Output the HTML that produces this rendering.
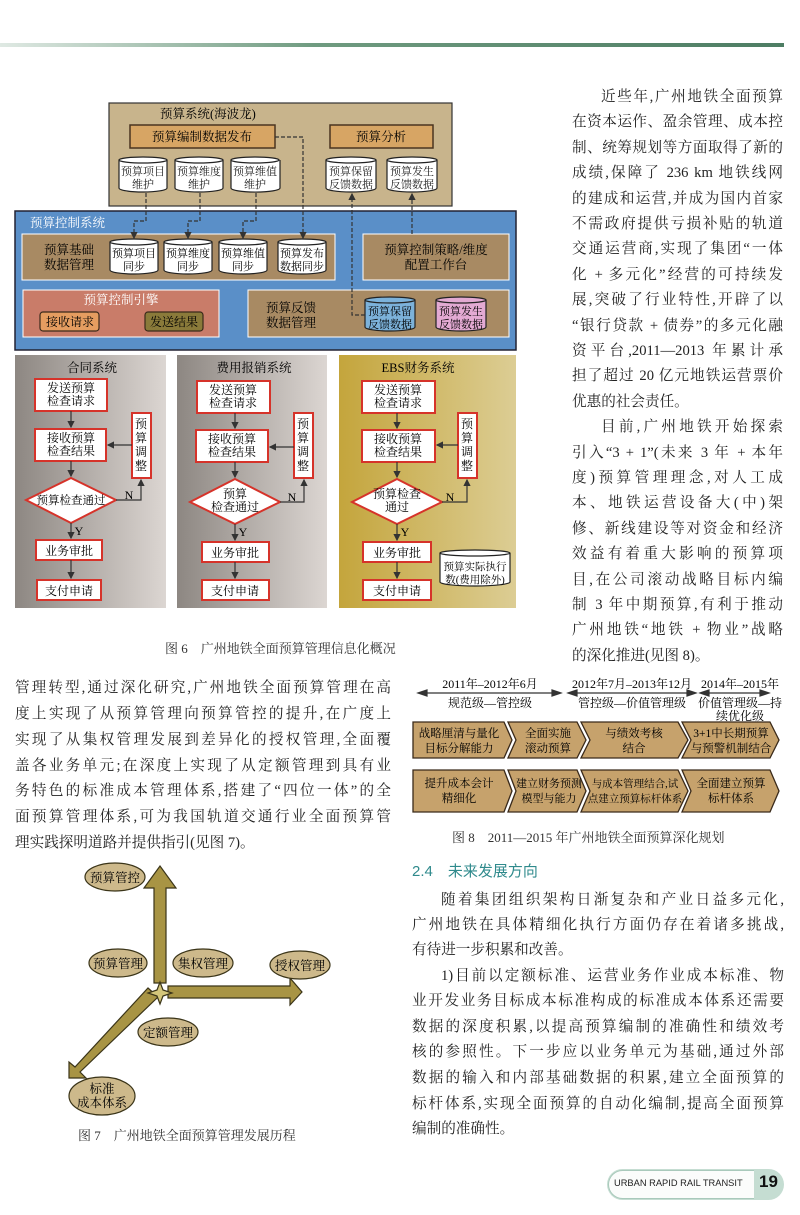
<!DOCTYPE html>
<html><head><meta charset="utf-8">
<style>
*{margin:0;padding:0;box-sizing:border-box}
body{width:800px;height:1215px;background:#fff;position:relative;overflow:hidden;font-family:"Liberation Serif","Noto Serif CJK SC","Noto Sans CJK SC",serif;color:#222}
.l{position:absolute;height:22px;line-height:22px;font-size:14.6px;white-space:nowrap;overflow:hidden}
.j{text-align:justify;text-align-last:justify;white-space:normal}
.cap{position:absolute;font-size:13px;white-space:nowrap;color:#333}
svg text{font-family:"Liberation Serif","Noto Serif CJK SC",serif}
</style></head><body>
<div style="position:absolute;left:0;top:43px;width:784px;height:4px;background:linear-gradient(90deg,#dfe9e3,#6f9b80 40%,#4d7d63)"></div>

<svg width="800" height="1215" style="position:absolute;left:0;top:0">
<defs>
<linearGradient id="g1" x1="0" x2="1"><stop offset="0" stop-color="#8d8782"/><stop offset="1" stop-color="#dcd6d2"/></linearGradient>
<linearGradient id="g3" x1="0" x2="1"><stop offset="0" stop-color="#c4a53c"/><stop offset="1" stop-color="#dccd94"/></linearGradient>
<marker id="ah" markerWidth="6" markerHeight="6" refX="5" refY="3" orient="auto"><path d="M0,0 L6,3 L0,6z" fill="#333"/></marker>
</defs>
<rect x="109" y="103" width="343" height="103" fill="#c8b48c" stroke="#333" stroke-width="1.2"/>
<text x="160" y="118" font-size="12.5">预算系统(海波龙)</text>
<rect x="130" y="125" width="145" height="23" fill="#d7a564" stroke="#4a3520" stroke-width="1.5"/>
<text x="202" y="141" font-size="12.5" text-anchor="middle">预算编制数据发布</text>
<rect x="330" y="125" width="103" height="23" fill="#d7a564" stroke="#4a3520" stroke-width="1.5"/>
<text x="381" y="141" font-size="12.5" text-anchor="middle">预算分析</text>
<g stroke="#222" stroke-width="1.2">
<g fill="#fff"><path d="M119 160 V188 A24 4 0 0 0 167 188 V160"/><ellipse cx="143" cy="160" rx="24" ry="3"/></g>
<g fill="#fff"><path d="M175 160 V188 A24 4 0 0 0 223 188 V160"/><ellipse cx="199" cy="160" rx="24" ry="3"/></g>
<g fill="#fff"><path d="M231 160 V188 A24 4 0 0 0 280 188 V160"/><ellipse cx="255" cy="160" rx="24" ry="3"/></g>
<g fill="#fff"><path d="M326 160 V188 A25 4 0 0 0 376 188 V160"/><ellipse cx="351" cy="160" rx="25" ry="3"/></g>
<g fill="#fff"><path d="M387 160 V188 A25 4 0 0 0 437 188 V160"/><ellipse cx="412" cy="160" rx="25" ry="3"/></g>
</g>
<g font-size="11" text-anchor="middle" fill="#222">
<text x="143" y="175">预算项目</text><text x="143" y="188">维护</text>
<text x="199" y="175">预算维度</text><text x="199" y="188">维护</text>
<text x="255" y="175">预算维值</text><text x="255" y="188">维护</text>
<text x="351" y="175">预算保留</text><text x="351" y="188">反馈数据</text>
<text x="412" y="175">预算发生</text><text x="412" y="188">反馈数据</text>
</g>
<rect x="15" y="211" width="501" height="139" fill="#5a8fc8" stroke="#223" stroke-width="1.5"/>
<text x="30" y="227" font-size="12.5" fill="#fff">预算控制系统</text>
<rect x="22" y="234" width="313" height="46" fill="#a88a63" stroke="#fff" stroke-width="1"/>
<text x="44" y="254" font-size="12.5">预算基础</text><text x="44" y="269" font-size="12.5">数据管理</text>
<rect x="363" y="234" width="146" height="46" fill="#a88a63" stroke="#fff" stroke-width="1"/>
<text x="436" y="254" font-size="12.5" text-anchor="middle">预算控制策略/维度</text><text x="436" y="269" font-size="12.5" text-anchor="middle">配置工作台</text>
<g stroke="#222" stroke-width="1.2" fill="#fff">
<path d="M110 242 V270 A24 4 0 0 0 158 270 V242"/><ellipse cx="134" cy="242" rx="24" ry="3"/>
<path d="M164 242 V270 A24 4 0 0 0 212 270 V242"/><ellipse cx="188" cy="242" rx="24" ry="3"/>
<path d="M219 242 V270 A24 4 0 0 0 267 270 V242"/><ellipse cx="243" cy="242" rx="24" ry="3"/>
<path d="M278 242 V270 A24 4 0 0 0 326 270 V242"/><ellipse cx="302" cy="242" rx="24" ry="3"/>
</g>
<g font-size="11" text-anchor="middle">
<text x="134" y="257">预算项目</text><text x="134" y="270">同步</text>
<text x="188" y="257">预算维度</text><text x="188" y="270">同步</text>
<text x="243" y="257">预算维值</text><text x="243" y="270">同步</text>
<text x="302" y="257">预算发布</text><text x="302" y="270">数据同步</text>
</g>
<rect x="23" y="290" width="196" height="47" fill="#c97c69" stroke="#fff" stroke-width="1"/>
<text x="121" y="304" font-size="12.5" fill="#fff" text-anchor="middle">预算控制引擎</text>
<rect x="40" y="312" width="59" height="19" rx="3" fill="#e59d60" stroke="#3a2a1a" stroke-width="1.2"/>
<text x="70" y="326" font-size="12" text-anchor="middle">接收请求</text>
<rect x="145" y="312" width="58" height="19" rx="3" fill="#8a7a3a" stroke="#3a2a1a" stroke-width="1.2"/>
<text x="174" y="326" font-size="12" text-anchor="middle">发送结果</text>
<rect x="248" y="290" width="261" height="47" fill="#a88a63" stroke="#fff" stroke-width="1"/>
<text x="266" y="312" font-size="12.5">预算反馈</text><text x="266" y="327" font-size="12.5">数据管理</text>
<g stroke="#222" stroke-width="1.2">
<path d="M365 300 V327 A25 4 0 0 0 415 327 V300" fill="#7cb2da"/><ellipse cx="390" cy="300" rx="25" ry="3" fill="#7cb2da"/>
<path d="M436 300 V327 A25 4 0 0 0 486 327 V300" fill="#e3aad3"/><ellipse cx="461" cy="300" rx="25" ry="3" fill="#e3aad3"/>
</g>
<g font-size="11" text-anchor="middle"><text x="390" y="315">预算保留</text><text x="390" y="328">反馈数据</text><text x="461" y="315">预算发生</text><text x="461" y="328">反馈数据</text></g>
<g stroke="#333" stroke-width="1.2" stroke-dasharray="4,2" fill="none" marker-end="url(#ah)">
<path d="M146 193 V221 H134 V238"/><path d="M200 193 V221 H188 V238"/><path d="M256 193 V221 H243 V238"/>
<path d="M275 137 H303 V238"/><path d="M365 315 H352 V194"/><path d="M412 234 V194"/>
</g>
<rect x="15" y="355" width="151" height="253" fill="url(#g1)"/>
<rect x="177" y="355" width="150" height="253" fill="url(#g1)"/>
<rect x="339" y="355" width="177" height="253" fill="url(#g3)"/>
<g font-size="12.5" text-anchor="middle">
<text x="92" y="372">合同系统</text><text x="254" y="372">费用报销系统</text><text x="418" y="372">EBS财务系统</text>
</g>
<g stroke="#d6332a" stroke-width="2" fill="#fff">
<rect x="35" y="379" width="72" height="32"/><rect x="35" y="429" width="71" height="32"/>
<polygon points="26,500 71,478 116,500 71,523"/>
<rect x="36" y="540" width="66" height="20"/><rect x="37" y="580" width="64" height="20"/>
<rect x="132" y="413" width="19" height="65"/>
<rect x="197" y="381" width="73" height="32"/><rect x="196" y="430" width="72" height="32"/>
<polygon points="190,502 235,479 280,502 235,524"/>
<rect x="202" y="542" width="67" height="20"/><rect x="202" y="580" width="67" height="20"/>
<rect x="294" y="413" width="19" height="65"/>
<rect x="362" y="381" width="73" height="32"/><rect x="362" y="430" width="73" height="32"/>
<polygon points="352,502 397,479 442,502 397,524"/>
<rect x="363" y="542" width="68" height="20"/><rect x="363" y="580" width="68" height="20"/>
<rect x="458" y="413" width="19" height="65"/>
</g>
<g stroke="#333" stroke-width="1.2" fill="none" marker-end="url(#ah)">
<path d="M71 411 V427"/><path d="M71 461 V476"/><path d="M71 523 V538"/><path d="M71 560 V578"/><path d="M132 445 H108"/><path d="M116 500 H141 V480"/>
<path d="M235 413 V428"/><path d="M235 462 V477"/><path d="M235 524 V540"/><path d="M235 562 V578"/><path d="M294 447 H270"/><path d="M280 502 H304 V480"/>
<path d="M397 413 V428"/><path d="M397 462 V477"/><path d="M397 524 V540"/><path d="M397 562 V578"/><path d="M458 445 H437"/><path d="M442 502 H467 V480"/>
</g>
<g stroke="#222" stroke-width="1.2" fill="#fff"><path d="M440 553 V582 A35 4 0 0 0 510 582 V553"/><ellipse cx="475" cy="553" rx="35" ry="3"/></g>
<g font-size="12" text-anchor="middle">
<text x="71" y="392">发送预算</text><text x="71" y="405">检查请求</text>
<text x="71" y="442">接收预算</text><text x="71" y="455">检查结果</text>
<text x="71" y="504" font-size="11.5">预算检查通过</text>
<text x="69" y="555">业务审批</text><text x="69" y="595">支付申请</text>
<text x="233" y="394">发送预算</text><text x="233" y="407">检查请求</text>
<text x="232" y="443">接收预算</text><text x="232" y="456">检查结果</text>
<text x="235" y="498">预算</text><text x="235" y="511">检查通过</text>
<text x="235" y="557">业务审批</text><text x="235" y="595">支付申请</text>
<text x="398" y="394">发送预算</text><text x="398" y="407">检查请求</text>
<text x="398" y="443">接收预算</text><text x="398" y="456">检查结果</text>
<text x="397" y="498">预算检查</text><text x="397" y="511">通过</text>
<text x="397" y="557">业务审批</text><text x="397" y="595">支付申请</text>
<text x="475" y="570" font-size="10.5">预算实际执行</text><text x="475" y="583" font-size="10.5">数(费用除外)</text>
</g>
<g font-size="12" text-anchor="middle">
<text x="141" y="428">预</text><text x="141" y="442">算</text><text x="141" y="456">调</text><text x="141" y="470">整</text>
<text x="303" y="428">预</text><text x="303" y="442">算</text><text x="303" y="456">调</text><text x="303" y="470">整</text>
<text x="467" y="428">预</text><text x="467" y="442">算</text><text x="467" y="456">调</text><text x="467" y="470">整</text>
<text x="129" y="499">N</text><text x="292" y="501">N</text><text x="450" y="501">N</text>
<text x="79" y="535">Y</text><text x="243" y="536">Y</text><text x="405" y="536">Y</text>
</g>
<g stroke="#333" stroke-width="1.2" fill="#333">
<line x1="420" y1="693" x2="558" y2="693"/><path d="M418 693 l9 -3 v6z M561 693 l-9 -3 v6z"/>
<line x1="570" y1="693" x2="693" y2="693"/><path d="M568 693 l9 -3 v6z M696 693 l-9 -3 v6z"/>
<line x1="702" y1="693" x2="766" y2="693"/><path d="M700 693 l9 -3 v6z M769 693 l-9 -3 v6z"/>
</g>
<g font-size="12" text-anchor="middle">
<text x="490" y="688">2011年–2012年6月</text><text x="490" y="707">规范级—管控级</text>
<text x="632" y="688">2012年7月–2013年12月</text><text x="632" y="707">管控级—价值管理级</text>
<text x="740" y="688">2014年–2015年</text><text x="740" y="707">价值管理级—持</text><text x="740" y="720">续优化级</text>
</g>
<g fill="#c6a26c" stroke="#3a2a1a" stroke-width="1.3">
<polygon points="413,722 504,722 512,740 504,758 413,758"/>
<polygon points="508,722 577,722 586,740 577,758 508,758 516,740"/>
<polygon points="581,722 678,722 688,740 678,758 581,758 590,740"/>
<polygon points="682,722 770,722 779,740 770,758 682,758 691,740"/>
<polygon points="413,770 504,770 512,791 504,812 413,812"/>
<polygon points="508,770 577,770 586,791 577,812 508,812 516,791"/>
<polygon points="581,770 678,770 688,791 678,812 581,812 590,791"/>
<polygon points="682,770 770,770 779,791 770,812 682,812 691,791"/>
</g>
<g font-size="11.5" text-anchor="middle">
<text x="459" y="737">战略厘清与量化</text><text x="459" y="752">目标分解能力</text>
<text x="548" y="737">全面实施</text><text x="548" y="752">滚动预算</text>
<text x="634" y="737">与绩效考核</text><text x="634" y="752">结合</text>
<text x="731" y="737">3+1中长期预算</text><text x="731" y="752">与预警机制结合</text>
<text x="459" y="787">提升成本会计</text><text x="459" y="802">精细化</text>
<text x="549" y="787" font-size="11">建立财务预测</text><text x="549" y="802" font-size="11">模型与能力</text>
<text x="635" y="787" font-size="10.5">与成本管理结合,试</text><text x="635" y="802" font-size="10.5">点建立预算标杆体系</text>
<text x="731" y="787">全面建立预算</text><text x="731" y="802">标杆体系</text>
</g>
<g fill="#a89444" stroke="#3a3418" stroke-width="1.2">
<polygon points="154,983 154,888 144,888 160,866 176,888 166,888 166,983"/>
<polygon points="168,986 290,986 290,978 302,992 290,1005 290,998 168,998"/>
<polygon points="148,988 158,997 80,1072 86,1078 69,1078 69,1062 75,1067 "/>
<polygon points="160,982 163,990 172,993 163,996 160,1004 157,996 148,993 157,990" fill="#d4c67a"/>
</g>
<g fill="#cdb98b" stroke="#3a3418" stroke-width="1.2">
<ellipse cx="115" cy="877" rx="30" ry="14"/><ellipse cx="118" cy="963" rx="29" ry="14"/>
<ellipse cx="203" cy="963" rx="30" ry="14"/><ellipse cx="300" cy="965" rx="30" ry="14"/>
<ellipse cx="168" cy="1032" rx="30" ry="14"/><ellipse cx="102" cy="1096" rx="33" ry="19"/>
</g>
<g font-size="12.5" text-anchor="middle">
<text x="115" y="882">预算管控</text><text x="118" y="968">预算管理</text><text x="203" y="968">集权管理</text>
<text x="300" y="970">授权管理</text><text x="168" y="1037">定额管理</text>
<text x="102" y="1093">标准</text><text x="102" y="1107">成本体系</text>
</g>
</svg>

<div class="cap" style="left:165px;top:638px">图 6　广州地铁全面预算管理信息化概况</div>
<div class="cap" style="left:452px;top:827px">图 8　2011—2015 年广州地铁全面预算深化规划</div>
<div class="cap" style="left:78px;top:1125px">图 7　广州地铁全面预算管理发展历程</div>

<div class="l j" style="left:601px;top:86px;width:182px">近些年,广州地铁全面预算</div>
<div class="l j" style="left:572px;top:111px;width:211px">在资本运作、盈余管理、成本控</div>
<div class="l j" style="left:572px;top:137px;width:211px">制、统筹规划等方面取得了新的</div>
<div class="l j" style="left:572px;top:162px;width:211px">成绩,保障了 236 km 地铁线网</div>
<div class="l j" style="left:572px;top:188px;width:211px">的建成和运营,并成为国内首家</div>
<div class="l j" style="left:572px;top:213px;width:211px">不需政府提供亏损补贴的轨道</div>
<div class="l j" style="left:572px;top:238px;width:211px">交通运营商,实现了集团“一体</div>
<div class="l j" style="left:572px;top:264px;width:211px">化 + 多元化”经营的可持续发</div>
<div class="l j" style="left:572px;top:289px;width:211px">展,突破了行业特性,开辟了以</div>
<div class="l j" style="left:572px;top:315px;width:211px">“银行贷款 + 债券”的多元化融</div>
<div class="l j" style="left:572px;top:340px;width:211px">资平台,2011—2013 年累计承</div>
<div class="l j" style="left:572px;top:365px;width:211px">担了超过 20 亿元地铁运营票价</div>
<div class="l" style="left:572px;top:391px;width:211px">优惠的社会责任。</div>
<div class="l j" style="left:601px;top:416px;width:182px">目前,广州地铁开始探索</div>
<div class="l j" style="left:572px;top:442px;width:211px">引入“3 + 1”(未来 3 年 + 本年</div>
<div class="l j" style="left:572px;top:467px;width:211px">度)预算管理理念,对人工成</div>
<div class="l j" style="left:572px;top:492px;width:211px">本、地铁运营设备大(中)架</div>
<div class="l j" style="left:572px;top:518px;width:211px">修、新线建设等对资金和经济</div>
<div class="l j" style="left:572px;top:543px;width:211px">效益有着重大影响的预算项</div>
<div class="l j" style="left:572px;top:569px;width:211px">目,在公司滚动战略目标内编</div>
<div class="l j" style="left:572px;top:594px;width:211px">制 3 年中期预算,有利于推动</div>
<div class="l j" style="left:572px;top:619px;width:211px">广州地铁“地铁 + 物业”战略</div>
<div class="l" style="left:572px;top:645px;width:211px">的深化推进(见图 8)。</div>

<div class="l j" style="left:15px;top:677px;width:376px">管理转型,通过深化研究,广州地铁全面预算管理在高</div>
<div class="l j" style="left:15px;top:703px;width:376px">度上实现了从预算管理向预算管控的提升,在广度上</div>
<div class="l j" style="left:15px;top:729px;width:376px">实现了从集权管理发展到差异化的授权管理,全面覆</div>
<div class="l j" style="left:15px;top:755px;width:376px">盖各业务单元;在深度上实现了从定额管理到具有业</div>
<div class="l j" style="left:15px;top:780px;width:376px">务特色的标准成本管理体系,搭建了“四位一体”的全</div>
<div class="l j" style="left:15px;top:806px;width:376px">面预算管理体系,可为我国轨道交通行业全面预算管</div>
<div class="l" style="left:15px;top:832px;width:376px">理实践探明道路并提供指引(见图 7)。</div>

<div class="l" style="left:412px;top:861px;font-size:15px;color:#2f8a8c;font-family:'Liberation Sans','Noto Sans CJK SC',sans-serif">2.4　未来发展方向</div>
<div class="l j" style="left:441px;top:889px;width:343px">随着集团组织架构日渐复杂和产业日益多元化,</div>
<div class="l j" style="left:412px;top:914px;width:372px">广州地铁在具体精细化执行方面仍存在着诸多挑战,</div>
<div class="l" style="left:412px;top:939px;width:372px">有待进一步积累和改善。</div>
<div class="l j" style="left:441px;top:965px;width:343px">1)目前以定额标准、运营业务作业成本标准、物</div>
<div class="l j" style="left:412px;top:990px;width:372px">业开发业务目标成本标准构成的标准成本体系还需要</div>
<div class="l j" style="left:412px;top:1016px;width:372px">数据的深度积累,以提高预算编制的准确性和绩效考</div>
<div class="l j" style="left:412px;top:1041px;width:372px">核的参照性。下一步应以业务单元为基础,通过外部</div>
<div class="l j" style="left:412px;top:1067px;width:372px">数据的输入和内部基础数据的积累,建立全面预算的</div>
<div class="l j" style="left:412px;top:1093px;width:372px">标杆体系,实现全面预算的自动化编制,提高全面预算</div>
<div class="l" style="left:412px;top:1118px;width:372px">编制的准确性。</div>

<div style="position:absolute;left:607px;top:1169px;width:177px;height:31px;border-radius:16px;background:#c5ddd2"></div>
<div style="position:absolute;left:608px;top:1170px;width:146px;height:29px;border-radius:15px 0 0 15px;background:#fbfcfb;border:1px solid #a9c9bb;border-right:none"></div>
<div style="position:absolute;left:614px;top:1178px;font-family:'Liberation Sans',sans-serif;font-size:9.3px;color:#222;white-space:nowrap">URBAN RAPID RAIL TRANSIT</div>
<div style="position:absolute;left:759px;top:1172px;font-family:'Liberation Sans',sans-serif;font-size:17px;font-weight:bold;color:#111">19</div>
</body></html>
